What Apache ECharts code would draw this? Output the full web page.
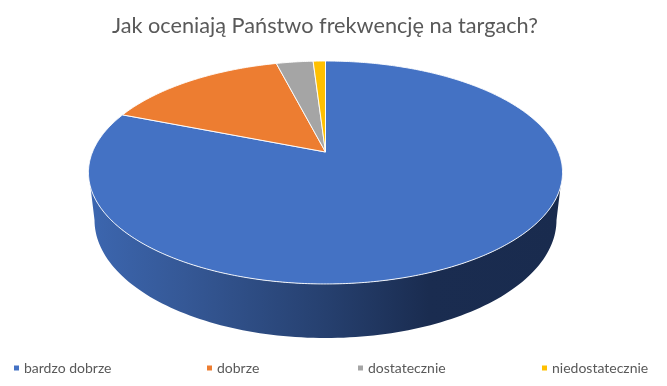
<!DOCTYPE html>
<html>
<head>
<meta charset="utf-8">
<style>html,body{margin:0;padding:0;background:#fff}#c{width:667px;height:386px}</style>
<script src="https://cdn.jsdelivr.net/npm/echarts@6/dist/echarts.min.js"></script>
</head>
<body>
<div id="c"></div>
<script>
const titleText = 'Jak oceniają Państwo frekwencję na targach?';
const categories = ['bardzo dobrze', 'dobrze', 'dostatecznie', 'niedostatecznie'];
const values = [81, 15, 3, 1];
const colors = ['#4472C4', '#ED7D31', '#A5A5A5', '#FFC000'];
const legendLefts = [14, 207, 358, 542];

const total = values.reduce((a, b) => a + b, 0);
const view = {cx: 325.5, apexY: 152, A: 233, B: 107.7, k: 0.1838};
const base = {cx: 325.5, cy: 220, rx: 231, ry: 118};
const topEll = {cy: 172.5, rx: 237, ry: 111.5};

function project(theta) {
  const u = Math.sin(theta), v = Math.cos(theta), w = 1 + view.k * v;
  return [view.cx + view.A * u / w, view.apexY - view.B * v / w];
}
function renderSlice(params, api) {
  const i = params.seriesIndex;
  let before = 0;
  for (let j = 0; j < i; j++) before += values[j];
  const a0 = before / total * 2 * Math.PI;
  const a1 = (before + api.value(0)) / total * 2 * Math.PI;
  const pts = [[view.cx, view.apexY]];
  const n = Math.max(8, Math.ceil((a1 - a0) * 90));
  for (let s = 0; s <= n; s++) pts.push(project(a0 + (a1 - a0) * s / n));
  const children = [];
  if (a0 < Math.PI && a1 > Math.PI) {
    const side = [];
    const start = 0.13, end = Math.PI - 0.13;
    for (let s = 0; s <= 120; s++) {
      const p = start + (end - start) * s / 120;
      side.push([view.cx + topEll.rx * Math.cos(p), topEll.cy + topEll.ry * Math.sin(p)]);
    }
    for (let s = 0; s <= 120; s++) {
      const p = Math.PI - Math.PI * s / 120;
      side.push([base.cx + base.rx * Math.cos(p), base.cy + base.ry * Math.sin(p)]);
    }
    children.push({
      type: 'polygon',
      shape: {points: side},
      style: {
        fill: {
          type: 'linear', x: 1, y: 0, x2: 0, y2: 0,
          colorStops: [
            {offset: 0, color: '#192B4E'},
            {offset: 0.28, color: '#1A2C50'},
            {offset: 0.5, color: '#26406F'},
            {offset: 0.8, color: '#355896'},
            {offset: 1, color: '#3C66AF'}
          ]
        }
      }
    });
  }
  children.push({
    type: 'polygon',
    shape: {points: pts},
    style: {fill: colors[i], stroke: '#fff', lineWidth: 1, lineJoin: 'round', strokeOpacity: 0.9}
  });
  return {type: 'group', children};
}

const chart = echarts.init(document.getElementById('c'), null, {renderer: 'canvas'});
chart.setOption({
  animation: false,
  backgroundColor: '#fff',
  title: {
    text: titleText, left: 112, top: 15, padding: 0,
    textStyle: {color: '#595959', fontFamily: 'Lato', fontWeight: 'normal', fontSize: 21.7}
  },
  legend: categories.map((c, i) => ({
    data: [c], left: legendLefts[i], top: 361, padding: 0,
    icon: 'rect', itemWidth: 5, itemHeight: 5, selectedMode: false,
    textStyle: {color: '#595959', fontFamily: 'Lato', fontSize: 14}
  })),
  series: categories.map((c, i) => ({
    type: 'custom', name: c, coordinateSystem: 'none',
    itemStyle: {color: colors[i]},
    data: [[values[i]]],
    renderItem: renderSlice,
    silent: true
  }))
});
</script>
</body>
</html>
